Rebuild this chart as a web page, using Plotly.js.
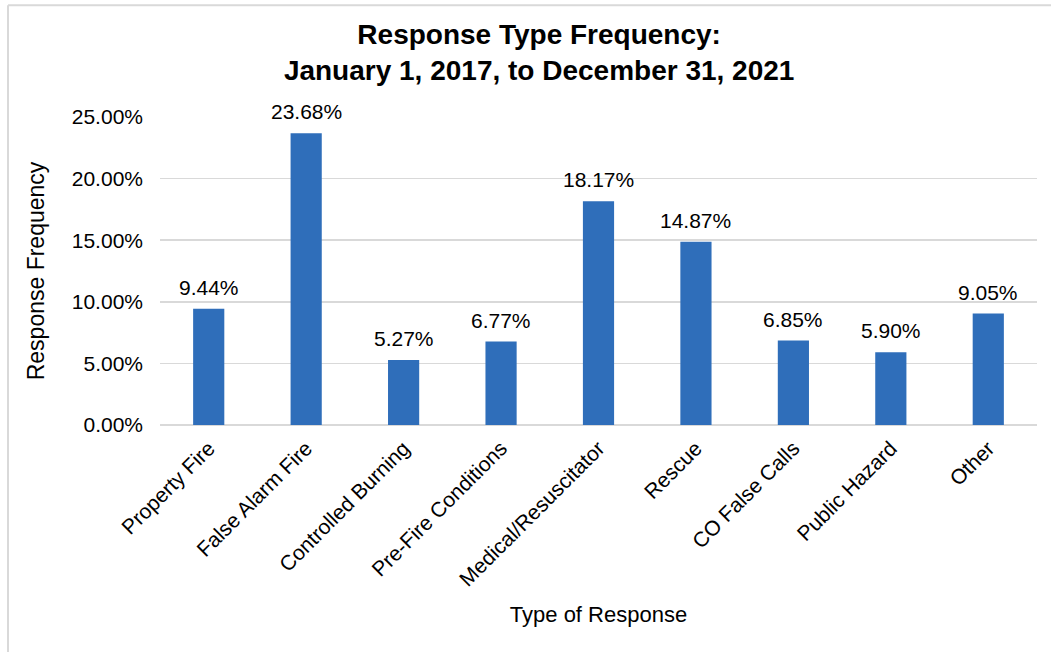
<!DOCTYPE html>
<html>
<head>
<meta charset="utf-8">
<script src="https://cdn.plot.ly/plotly-3.0.1.min.js"></script>
<style>
  html, body { margin: 0; padding: 0; background: #ffffff; }
  #chart { width: 1051px; height: 652px; }
</style>
</head>
<body>
<div id="chart"></div>
<script>
// Response categories and their share of all responses
const categories = [
  "Property Fire",
  "False Alarm Fire",
  "Controlled Burning",
  "Pre-Fire Conditions",
  "Medical/Resuscitator",
  "Rescue",
  "CO False Calls",
  "Public Hazard",
  "Other"
];
const frequency = [0.0944, 0.2368, 0.0527, 0.0677, 0.1817, 0.1487, 0.0685, 0.0590, 0.0905];
const yTickValues = [0, 0.05, 0.10, 0.15, 0.20, 0.25];

const FONT = "Liberation Sans, Arial, sans-serif";
const BAR_BLUE = "#2F6EBA";
const GRID = "#d9d9d9";

const trace = {
  type: "bar",
  x: categories,
  y: frequency,
  marker: { color: BAR_BLUE },
  cliponaxis: false,
  hoverinfo: "x+y"
};

// value labels sitting above each bar
const valueLabels = categories.map((c, i) => ({
  x: c,
  y: frequency[i],
  xref: "x",
  yref: "y",
  text: (frequency[i] * 100).toFixed(2) + "%",
  showarrow: false,
  xanchor: "center",
  yanchor: "bottom",
  yshift: 8,
  font: { family: FONT, size: 21, color: "#000000" }
}));

const layout = {
  width: 1051,
  height: 652,
  margin: { l: 160, r: 14, t: 117, b: 227 },
  paper_bgcolor: "#ffffff",
  plot_bgcolor: "#ffffff",
  font: { family: FONT, color: "#000000" },
  bargap: 0.68,
  showlegend: false,
  title: {
    text: "<b>Response Type Frequency:</b><br><b>January 1, 2017, to December 31, 2021</b>",
    font: { family: FONT, size: 28, color: "#000000" },
    xref: "container",
    x: 0.513,
    xanchor: "center",
    yref: "container",
    y: 0.933,
    yanchor: "top"
  },
  xaxis: {
    type: "category",
    tickangle: -45,
    tickfont: { family: FONT, size: 21, color: "#000000" },
    ticklabelstandoff: 6,
    showgrid: false,
    showline: false,
    ticks: "",
    title: {
      text: "Type of Response",
      font: { family: FONT, size: 22, color: "#000000" },
      standoff: 17
    },
    automargin: false
  },
  yaxis: {
    range: [0, 0.25],
    tickvals: yTickValues,
    tickformat: ".2%",
    tickfont: { family: FONT, size: 21, color: "#000000" },
    showgrid: true,
    gridcolor: GRID,
    gridwidth: 1.5,
    zeroline: true,
    zerolinecolor: GRID,
    zerolinewidth: 2,
    showline: false,
    ticks: "",
    ticklabelstandoff: 16,
    title: {
      text: "Response Frequency",
      font: { family: FONT, size: 23, color: "#000000" },
      standoff: 20
    },
    automargin: false,
    fixedrange: true
  },
  annotations: valueLabels,
  shapes: [
    // chart frame: left and top edges
    { type: "line", xref: "paper", yref: "paper",
      x0: -0.1733, x1: -0.1733, y0: -0.75, y1: 1.3626,
      line: { color: "#d9d9d9", width: 2 } },
    { type: "line", xref: "paper", yref: "paper",
      x0: -0.1733, x1: 1.02, y0: 1.3626, y1: 1.3626,
      line: { color: "#d9d9d9", width: 2 } }
  ]
};

Plotly.newPlot("chart", [trace], layout, { displayModeBar: false, staticPlot: true });
</script>
</body>
</html>
